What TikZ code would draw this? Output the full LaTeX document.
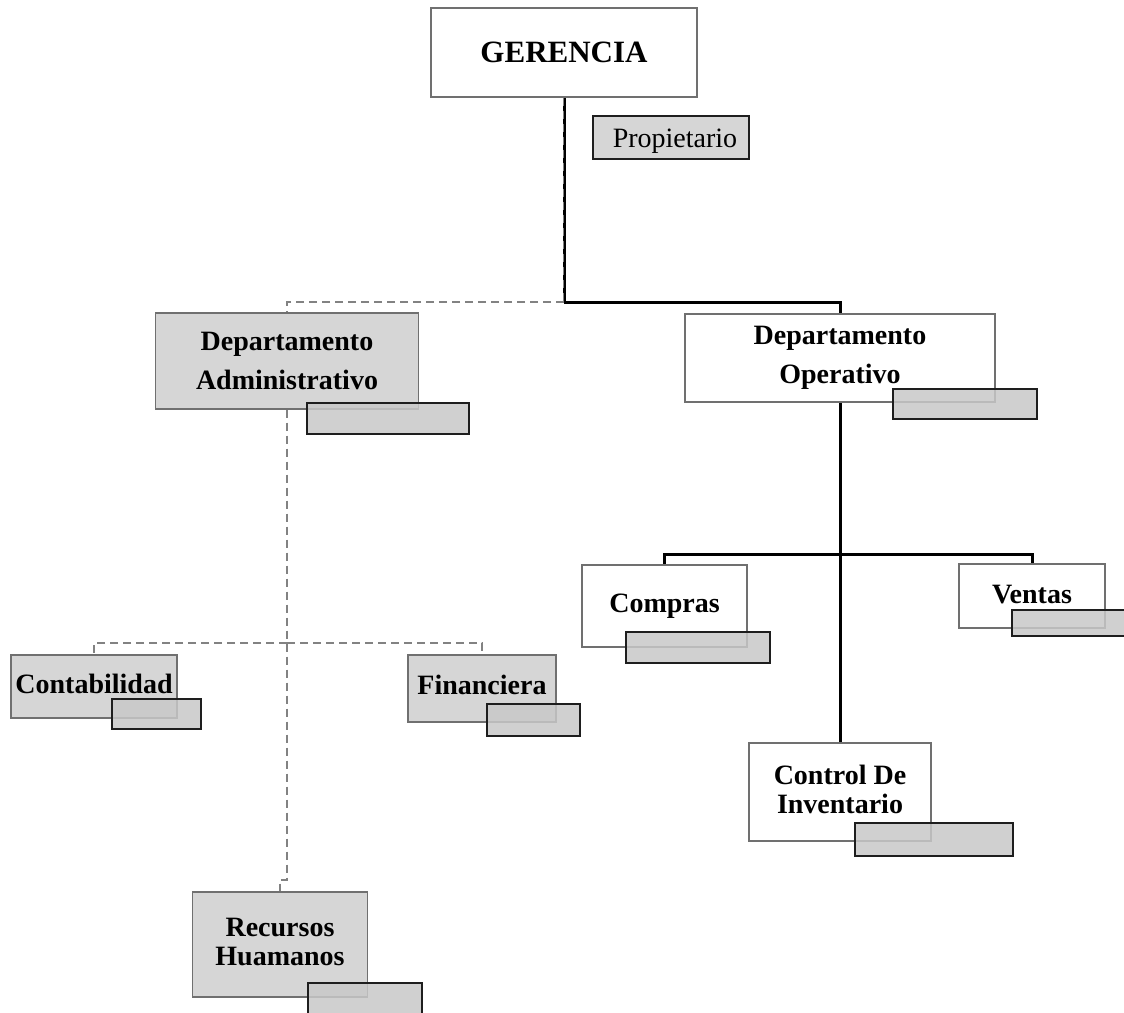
\documentclass[tikz,border=0pt]{standalone}
\usepackage{fontspec}
\setmainfont{Liberation Serif}
\usetikzlibrary{calc}

\definecolor{boxgray}{RGB}{214,214,214}
\definecolor{boxline}{RGB}{112,112,112}
\definecolor{taggray}{RGB}{200,200,200}
\definecolor{tagline}{RGB}{30,30,30}
\definecolor{linkgray}{RGB}{130,130,130}

\pgfdeclarelayer{links}
\pgfsetlayers{links,main}

% invisible strut that deepens the last line, lifting the text a little
\newcommand{\lift}[1]{\rule[-#1]{0pt}{0pt}}

\begin{document}
\begin{tikzpicture}[x=1pt,y=-1pt,
  unit/.style={draw=boxline, line width=1.2pt, inner sep=0pt, align=center,
    font=\fontsize{28}{39}\selectfont\bfseries},
  tight/.style={font=\fontsize{28}{29}\selectfont\bfseries},
  whitebox/.style={unit, fill=white},
  graybox/.style={unit, fill=boxgray},
  tag/.style={draw=tagline, line width=1.5pt, fill=taggray, fill opacity=0.85, inner sep=0pt},
  rolebox/.style={draw=tagline, line width=1.3pt, fill=boxgray, inner sep=0pt,
    font=\fontsize{28}{34}\selectfont},
  solidlink/.style={line width=3pt, black},
  dashlink/.style={line width=2.6pt, linkgray, dash pattern=on 8pt off 5pt},
]
\useasboundingbox (0,0) rectangle (1124,1012);

% units of the chart
\node[whitebox, minimum width=266pt, minimum height=89pt,
  font=\fontsize{31}{36}\selectfont\bfseries] (ger) at (564,52.5) {GERENCIA};
\node[rolebox, minimum width=156pt, minimum height=43pt] (prop) at (671,137.5)
  {\hspace*{8pt}\rule{0pt}{25pt}Propietario};

\node[graybox, minimum width=263pt, minimum height=96pt] (dadm) at (287,361)
  {Departamento\\Administrativo};
\node[whitebox, minimum width=310pt, minimum height=88pt] (dop) at (840,358)
  {Departamento\\Operativo};

\node[whitebox, minimum width=165pt, minimum height=82pt] (comp) at (664.5,606) {Compras};
\node[whitebox, minimum width=146pt, minimum height=64pt] (vent) at (1032,596) {Ventas\lift{4pt}};
\node[whitebox, tight, minimum width=182pt, minimum height=98pt] (inv) at (840,792)
  {Control De\\Inventario\lift{6pt}};

\node[graybox, minimum width=166pt, minimum height=63pt] (cont) at (94,686.5) {Contabilidad\lift{6pt}};
\node[graybox, minimum width=148pt, minimum height=67pt] (fin) at (482,688.5) {Financiera\lift{8pt}};
\node[graybox, tight, minimum width=175pt, minimum height=105pt] (rh) at (280,944.5)
  {Recursos\\Huamanos\lift{6pt}};

% empty name tags overlapping each unit
\node[tag, minimum width=162pt, minimum height=31pt] (tadm) at (388,418.5) {};
\node[tag, minimum width=144pt, minimum height=30pt] (top) at (965,404) {};
\node[tag, minimum width=144pt, minimum height=31pt] (tcomp) at (698,647.5) {};
\node[tag, minimum width=114pt, minimum height=26pt] (tvent) at (1069,623) {};
\node[tag, minimum width=158pt, minimum height=33pt] (tinv) at (934,839.5) {};
\node[tag, minimum width=89pt, minimum height=30pt] (tcont) at (156.5,714) {};
\node[tag, minimum width=93pt, minimum height=32pt] (tfin) at (533.5,720) {};
\node[tag, minimum width=114pt, minimum height=31pt] (trh) at (365,998.5) {};

% junction points of the connectors
\coordinate (hubtop) at (564,302);
\coordinate (hubop) at (840,554);
\coordinate (hubadm) at (287,643);
\coordinate (jog) at (287,880);
\coordinate (jogend) at (280,880);

\begin{pgfonlayer}{links}
\fill[white] (0,0) rectangle (1124,1012);
% link from the management box down to the split
\draw[solidlink] (ger.south) -- (hubtop);
\draw[dashlink, line width=1.4pt] ($(ger.south)+(-0.6,0)$) -- ($(hubtop)+(-0.6,0)$);

% operative branch
\draw[solidlink] (hubtop) -| (dop.north);
\draw[solidlink] (dop.south) -- (inv.north);
\draw[solidlink] (hubop) -| (comp.north);
\draw[solidlink] (hubop) -| (vent.north);

% administrative branch
\draw[dashlink] (hubtop) -| (dadm.north);
\draw[dashlink] (dadm.south) -- (hubadm) -- (jog) -- (jogend) -- (rh.north);
\draw[dashlink] (hubadm) -| (cont.north);
\draw[dashlink] (hubadm) -| (fin.north);
\end{pgfonlayer}
\end{tikzpicture}
\end{document}
